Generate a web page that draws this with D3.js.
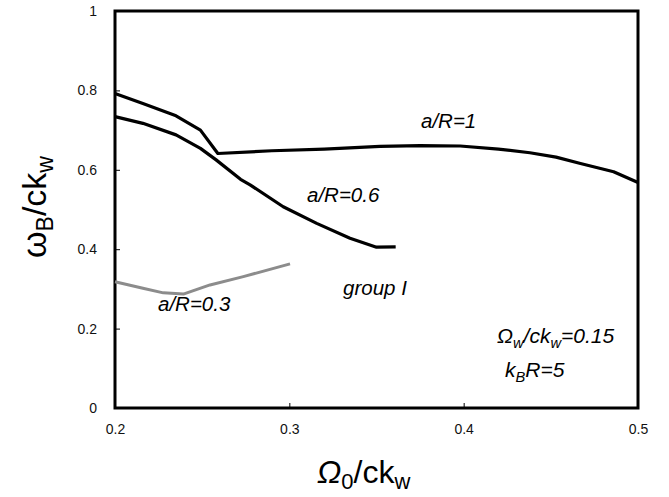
<!DOCTYPE html>
<html><head><meta charset="utf-8">
<script src="https://cdn.jsdelivr.net/npm/d3@7"></script>
<style>body{margin:0;background:#fff}svg{display:block}text{font-family:"Liberation Sans",Arial,Helvetica,sans-serif}</style>
</head><body>
<script>
// ---- data ----
const xTicks = [0.2, 0.3, 0.4, 0.5];
const xTickLabels = ["0.2", "0.3", "0.4", "0.5"];
const yTicks = [0, 0.2, 0.4, 0.6, 0.8, 1];
const yTickLabels = ["0", "0.2", "0.4", "0.6", "0.8", "1"];

const omega0_R1 = [0.2, 0.216, 0.235, 0.249, 0.259, 0.29, 0.32, 0.352, 0.375, 0.398, 0.42, 0.438, 0.453, 0.467, 0.486, 0.5];
const omegaB_R1 = [0.792, 0.767, 0.736, 0.700, 0.641, 0.648, 0.652, 0.659, 0.661, 0.660, 0.652, 0.643, 0.632, 0.616, 0.595, 0.568];

const omega0_R06 = [0.2, 0.216, 0.235, 0.249, 0.258, 0.272, 0.2775, 0.2965, 0.3157, 0.3348, 0.350, 0.361];
const omegaB_R06 = [0.734, 0.717, 0.688, 0.654, 0.625, 0.576, 0.562, 0.507, 0.465, 0.4275, 0.405, 0.406];

const omega0_R03 = [0.2, 0.216, 0.2277, 0.2392, 0.2545, 0.2736, 0.3004];
const omegaB_R03 = [0.318, 0.3015, 0.290, 0.287, 0.310, 0.331, 0.363];

const W = 669, H = 497;
const svg = d3.select("body").append("svg").attr("width", W).attr("height", H);
const x = d3.scaleLinear().domain([0.2, 0.5]).range([115, 638]);
const y = d3.scaleLinear().domain([0, 1]).range([408, 11]);

// axes (inward ticks)
const ax = svg.append("g").attr("transform", `translate(0,${y(0)})`)
  .call(d3.axisBottom(x).tickValues(xTicks).tickFormat((d,i)=>xTickLabels[i]).tickSizeInner(-5).tickSizeOuter(0).tickPadding(16));
const ay = svg.append("g").attr("transform", `translate(${x(0.2)},0)`)
  .call(d3.axisLeft(y).tickValues(yTicks).tickFormat((d,i)=>yTickLabels[i]).tickSizeInner(5).tickSizeOuter(0).tickPadding(13));
ay.selectAll(".tick line").attr("x2", 5).attr("x1", 0);
[ax, ay].forEach(a => {
  a.select(".domain").remove();
  a.selectAll(".tick text").attr("font-size", 14).attr("fill", "#111").style("font-family", "'Liberation Sans',Arial,sans-serif");
  a.selectAll(".tick line").attr("stroke", "#000").attr("stroke-width", 1);
});

// frame
svg.append("rect").attr("x", x(0.2)).attr("y", y(1)).attr("width", x(0.5)-x(0.2)).attr("height", y(0)-y(1))
  .attr("fill", "none").attr("stroke", "#000").attr("stroke-width", 3);

const line = d3.line().x(d => x(d[0])).y(d => y(d[1]));
function draw(xs, ys, color, w) {
  svg.append("path").datum(xs.map((v,i)=>[v, ys[i]])).attr("d", line)
    .attr("fill", "none").attr("stroke", color).attr("stroke-width", w).attr("stroke-linejoin", "round");
}
draw(omega0_R03, omegaB_R03, "#8c8c8c", 3);
draw(omega0_R1, omegaB_R1, "#000", 3.2);
draw(omega0_R06, omegaB_R06, "#000", 3.2);

// annotations
function label(xp, yp, parts, size) {
  const t = svg.append("text").attr("x", xp).attr("y", yp).attr("font-size", size).attr("font-style", "italic").attr("fill", "#000");
  parts.forEach(p => {
    const s = t.append("tspan").text(p.t);
    if (p.sub) s.attr("font-size", size*0.7).attr("dy", size*0.25);
    if (p.up) s.attr("dy", -size*0.25);
  });
  return t;
}
label(421, 128, [{t:"a/R=1"}], 20.5);
label(307, 202, [{t:"a/R=0.6"}], 20.5);
label(343, 295, [{t:"group I"}], 20.5);
label(158, 311, [{t:"a/R=0.3"}], 20.5);
label(497, 343, [{t:"Ω"},{t:"w",sub:true},{t:"/ck",up:true},{t:"w",sub:true},{t:"=0.15",up:true}], 21);
label(505, 377, [{t:"k"},{t:"B",sub:true},{t:"R=5",up:true}], 21);

// x axis title
const xt = svg.append("text").attr("x", 317).attr("y", 483).attr("font-size", 32).attr("fill", "#000");
xt.append("tspan").text("Ω").attr("font-style", "italic");
xt.append("tspan").text("0").attr("font-size", 22).attr("dy", 6);
xt.append("tspan").text("/ck").attr("dy", -6);
xt.append("tspan").text("w").attr("font-size", 22).attr("dy", 6);

// y axis title
const yt = svg.append("text").attr("transform", "translate(46,258) rotate(-90)").attr("font-size", 34).attr("fill", "#000");
yt.append("tspan").text("ω");
yt.append("tspan").text("B").attr("font-size", 23).attr("dy", 7);
yt.append("tspan").text("/ck").attr("dy", -7);
yt.append("tspan").text("w").attr("font-size", 23).attr("dy", 7);
</script>
</body></html>
